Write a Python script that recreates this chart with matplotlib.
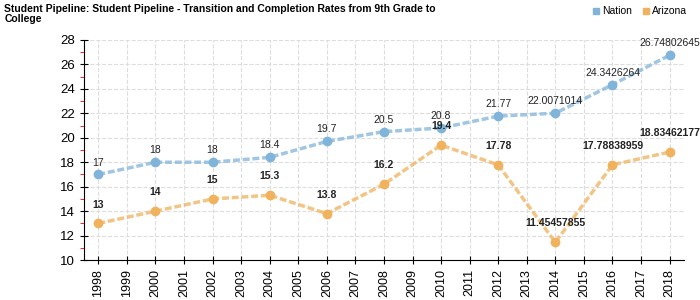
import matplotlib
matplotlib.use('Agg')
import matplotlib.pyplot as plt
from matplotlib.ticker import MultipleLocator

plt.rcParams['font.family'] = ['Liberation Sans', 'DejaVu Sans']

years = [1998, 2000, 2002, 2004, 2006, 2008, 2010, 2012, 2014, 2016, 2018]
nation = [17, 18, 18, 18.4, 19.7, 20.5, 20.8, 21.77, 22.0071014, 24.3426264, 26.74802645]
arizona = [13, 14, 15, 15.3, 13.8, 16.2, 19.4, 17.78, 11.45457855, 17.78838959, 18.83462177]
nation_labels = ['17', '18', '18', '18.4', '19.7', '20.5', '20.8', '21.77', '22.0071014', '24.3426264', '26.74802645']
arizona_labels = ['13', '14', '15', '15.3', '13.8', '16.2', '19.4', '17.78', '11.45457855', '17.78838959', '18.83462177']

c_nation = '#80b4da'
c_arizona = '#f0b25c'

fig = plt.figure(figsize=(7, 3), dpi=100)
ax = fig.add_axes([0.12, 0.133, 0.857, 0.734])

# dashed lines + dots on top
ax.plot(years, nation, color=c_nation, lw=2.5, alpha=0.75, dashes=(2, 0.8))
ax.plot(years, nation, 'o', color=c_nation, ms=6)
ax.plot(years, arizona, color=c_arizona, lw=2.5, alpha=0.75, dashes=(2, 0.8))
ax.plot(years, arizona, 'o', color=c_arizona, ms=6)

for x, y, t in zip(years, nation, nation_labels):
    ax.annotate(t, (x, y), xytext=(0, 5), textcoords='offset points',
                ha='center', va='bottom', fontsize=7.5, color='#222222')
for x, y, t in zip(years, arizona, arizona_labels):
    ax.annotate(t, (x, y), xytext=(0, 10), textcoords='offset points',
                ha='center', va='bottom', fontsize=7.5, color='#222222', fontweight='bold')

ax.set_xlim(1997.5, 2018.5)
ax.set_ylim(10, 28)
ax.set_xticks(range(1998, 2019))
ax.set_xticklabels([str(y) for y in range(1998, 2019)], rotation=90, fontsize=9)
ax.yaxis.set_major_locator(MultipleLocator(2))
ax.yaxis.set_minor_locator(MultipleLocator(1))
ax.tick_params(axis='y', which='major', labelsize=9.5, direction='inout', length=6)
ax.tick_params(axis='y', which='minor', color='red', direction='out', length=3)
ax.tick_params(axis='x', direction='inout', length=6)

ax.grid(True, which='major', color='#dddddd', linestyle='--', lw=0.8)
for s in ['top', 'right']:
    ax.spines[s].set_visible(False)

fig.text(0.006, 0.985, 'Student Pipeline: Student Pipeline - Transition and Completion Rates from 9th Grade to\nCollege',
         fontsize=7.5, fontweight='bold', va='top', ha='left', linespacing=0.9)

handles = [plt.Line2D([], [], marker='s', ls='', color=c_nation, ms=5),
           plt.Line2D([], [], marker='s', ls='', color=c_arizona, ms=5)]
fig.legend(handles, ['Nation', 'Arizona'], loc='upper right', bbox_to_anchor=(0.995, 1.01),
           ncol=2, frameon=False, fontsize=7.5, handletextpad=0.1, columnspacing=0.8,
           handlelength=1.0)

fig.savefig('out.png', dpi=100)
